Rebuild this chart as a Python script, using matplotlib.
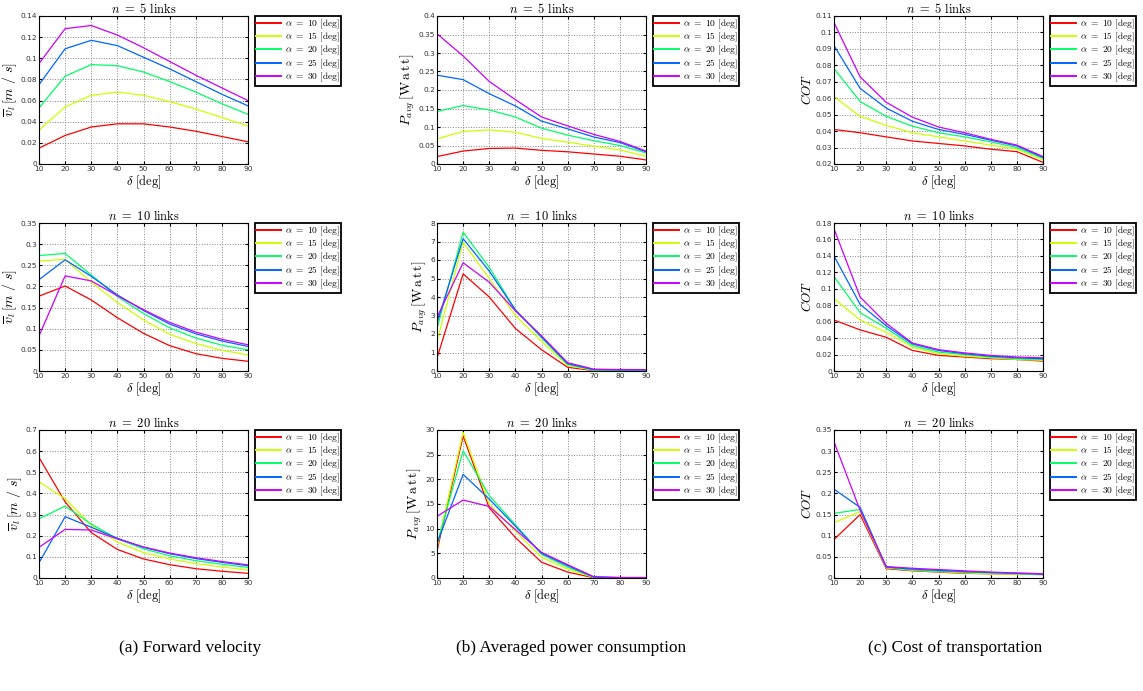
import matplotlib.pyplot as plt
from matplotlib.ticker import MultipleLocator, FormatStrFormatter

plt.rcParams['mathtext.fontset'] = 'cm'
plt.rcParams['font.family'] = 'DejaVu Sans'

delta = [10, 20, 30, 40, 50, 60, 70, 80, 90]
alphas = [10, 15, 20, 25, 30]
colors = ['#ff0000', '#ccff00', '#00ff66', '#0066ff', '#cc00ff']

# forward velocity, one list per alpha
v5 = [
    [0.015, 0.027, 0.035, 0.038, 0.038, 0.035, 0.031, 0.026, 0.021],
    [0.032, 0.054, 0.065, 0.068, 0.065, 0.059, 0.052, 0.044, 0.036],
    [0.053, 0.083, 0.094, 0.093, 0.087, 0.078, 0.068, 0.057, 0.047],
    [0.075, 0.109, 0.117, 0.112, 0.101, 0.090, 0.078, 0.066, 0.055],
    [0.095, 0.128, 0.131, 0.122, 0.110, 0.097, 0.084, 0.072, 0.060],
]
v10 = [
    [0.177, 0.201, 0.168, 0.126, 0.089, 0.060, 0.041, 0.030, 0.023],
    [0.260, 0.264, 0.210, 0.162, 0.121, 0.087, 0.065, 0.049, 0.038],
    [0.273, 0.278, 0.227, 0.176, 0.136, 0.102, 0.078, 0.061, 0.050],
    [0.216, 0.263, 0.224, 0.180, 0.143, 0.111, 0.088, 0.071, 0.058],
    [0.083, 0.225, 0.213, 0.178, 0.145, 0.115, 0.092, 0.075, 0.062],
]
v20 = [
    [0.570, 0.360, 0.215, 0.135, 0.090, 0.063, 0.044, 0.032, 0.022],
    [0.455, 0.375, 0.250, 0.170, 0.120, 0.090, 0.068, 0.052, 0.038],
    [0.280, 0.340, 0.255, 0.185, 0.138, 0.105, 0.082, 0.065, 0.050],
    [0.072, 0.290, 0.240, 0.188, 0.145, 0.115, 0.092, 0.074, 0.058],
    [0.145, 0.230, 0.227, 0.185, 0.147, 0.118, 0.096, 0.078, 0.062],
]

# averaged power
p5 = [
    [0.020, 0.035, 0.042, 0.043, 0.037, 0.033, 0.027, 0.021, 0.011],
    [0.068, 0.088, 0.092, 0.086, 0.069, 0.059, 0.048, 0.038, 0.021],
    [0.142, 0.158, 0.146, 0.127, 0.097, 0.078, 0.063, 0.050, 0.030],
    [0.240, 0.228, 0.190, 0.157, 0.116, 0.095, 0.073, 0.058, 0.033],
    [0.352, 0.292, 0.223, 0.174, 0.127, 0.103, 0.080, 0.061, 0.035],
]
p10 = [
    [0.7, 5.25, 4.0, 2.3, 1.15, 0.2, 0.02, 0.01, 0.01],
    [1.6, 6.95, 5.0, 3.0, 1.6, 0.3, 0.03, 0.02, 0.02],
    [2.3, 7.5, 5.6, 3.3, 1.8, 0.35, 0.05, 0.04, 0.04],
    [2.6, 7.15, 5.4, 3.3, 1.85, 0.4, 0.07, 0.06, 0.06],
    [2.9, 5.85, 4.8, 3.25, 1.9, 0.45, 0.1, 0.08, 0.07],
]
p20 = [
    [5.5, 28.8, 14.2, 8.2, 3.2, 1.2, 0.05, 0.02, 0.02],
    [6.2, 29.5, 15.0, 9.5, 4.2, 1.8, 0.1, 0.05, 0.05],
    [6.8, 25.8, 16.7, 10.8, 4.8, 2.2, 0.15, 0.07, 0.07],
    [7.0, 21.0, 16.0, 10.5, 5.0, 2.5, 0.2, 0.08, 0.08],
    [12.5, 15.8, 14.5, 9.8, 5.2, 2.7, 0.25, 0.1, 0.1],
]

# cost of transportation
c5 = [
    [0.041, 0.039, 0.0365, 0.034, 0.0325, 0.031, 0.029, 0.0275, 0.021],
    [0.061, 0.049, 0.0435, 0.039, 0.0365, 0.034, 0.0315, 0.029, 0.0225],
    [0.078, 0.058, 0.049, 0.043, 0.039, 0.0365, 0.0335, 0.030, 0.0235],
    [0.092, 0.066, 0.054, 0.046, 0.041, 0.038, 0.0345, 0.031, 0.024],
    [0.106, 0.073, 0.0575, 0.0485, 0.0425, 0.039, 0.035, 0.0315, 0.0245],
]
c10 = [
    [0.062, 0.050, 0.041, 0.025, 0.019, 0.017, 0.015, 0.014, 0.012],
    [0.088, 0.062, 0.047, 0.029, 0.021, 0.018, 0.016, 0.014, 0.013],
    [0.115, 0.071, 0.052, 0.031, 0.023, 0.020, 0.017, 0.015, 0.014],
    [0.140, 0.081, 0.055, 0.033, 0.025, 0.021, 0.018, 0.016, 0.015],
    [0.173, 0.090, 0.058, 0.034, 0.026, 0.022, 0.019, 0.017, 0.016],
]
c20 = [
    [0.091, 0.150, 0.022, 0.017, 0.014, 0.011, 0.010, 0.009, 0.008],
    [0.131, 0.157, 0.024, 0.018, 0.015, 0.012, 0.010, 0.009, 0.008],
    [0.153, 0.162, 0.025, 0.019, 0.016, 0.014, 0.012, 0.010, 0.009],
    [0.210, 0.167, 0.026, 0.021, 0.018, 0.015, 0.013, 0.011, 0.009],
    [0.322, 0.160, 0.027, 0.023, 0.020, 0.017, 0.014, 0.012, 0.010],
]

links = [5, 10, 20]
columns = [
    ([v5, v10, v20], r'$\overline{v}_l\,[m\ /\ s]$',
     [(0, 0.14, 0.02), (0, 0.35, 0.05), (0, 0.7, 0.1)]),
    ([p5, p10, p20], r'$P_{avg}\,[\mathrm{W\,a\,t\,t}]$',
     [(0, 0.4, 0.05), (0, 8, 1), (0, 30, 5)]),
    ([c5, c10, c20], r'$COT$',
     [(0.02, 0.11, 0.01), (0, 0.18, 0.02), (0, 0.35, 0.05)]),
]
captions = ['(a) Forward velocity', '(b) Averaged power consumption',
            '(c) Cost of transportation']

W, H = 1143, 691
col_left = [39, 437, 834]
row_top = [16, 223, 430]
ax_w, ax_h = 209, 148

fig = plt.figure(figsize=(W / 100, H / 100), dpi=100)

for ci, (data, ylab, limits) in enumerate(columns):
    for ri in range(3):
        left = col_left[ci] / W
        bottom = 1 - (row_top[ri] + ax_h) / H
        ax = fig.add_axes([left, bottom, ax_w / W, ax_h / H])
        for k in range(5):
            ax.plot(delta, data[ri][k], color=colors[k], lw=0.9,
                    label=r'$\alpha\ =\ %d\ [\mathrm{deg}]$' % alphas[k])
        lo, hi, step = limits[ri]
        ax.set_xlim(10, 90)
        ax.set_ylim(lo, hi)
        ax.xaxis.set_major_locator(MultipleLocator(10))
        ax.yaxis.set_major_locator(MultipleLocator(step))
        ax.yaxis.set_major_formatter(FormatStrFormatter('%g'))
        ax.grid(True, linestyle=':', color='#888888', lw=0.7)
        ax.tick_params(direction='in', top=True, right=True, length=2,
                       labelsize=5.3, pad=1.5, labelcolor='#333333')
        for s in ax.spines.values():
            s.set_linewidth(0.8)
        ax.set_title(r'$n\ =\ %d\ \mathrm{links}$' % links[ri],
                     fontsize=9, pad=2)
        ax.set_xlabel(r'$\delta\ [\mathrm{deg}]$', fontsize=9, labelpad=1)
        ax.set_ylabel(ylab, fontsize=10 if ci < 2 else 9.5, labelpad=1)
        leg = ax.legend(loc='upper left',
                        bbox_to_anchor=((col_left[ci] + ax_w + 7) / W,
                                        1 - row_top[ri] / H),
                        bbox_transform=fig.transFigure, fontsize=6.8,
                        fancybox=False, framealpha=1, borderaxespad=0,
                        handlelength=2.6, labelspacing=0.0,
                        borderpad=0.15, handletextpad=0.4)
        leg.get_frame().set_edgecolor('black')
        leg.get_frame().set_linewidth(1.3)
        for line in leg.get_lines():
            line.set_linewidth(1.4)

cap_x = [190, 571, 955]
for ci in range(3):
    fig.text(cap_x[ci] / W, 1 - 648 / H, captions[ci], ha='center',
             va='center', fontsize=12.4, family='Liberation Serif')

fig.savefig('out.png', dpi=100)
